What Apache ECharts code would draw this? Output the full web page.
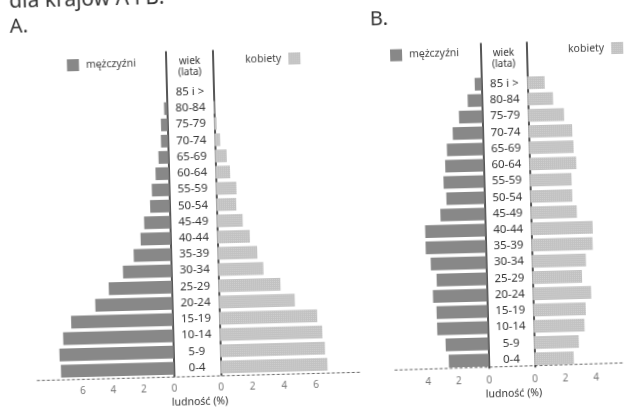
<!DOCTYPE html>
<html><head><meta charset="utf-8">
<script src="https://cdn.jsdelivr.net/npm/echarts@6/dist/echarts.min.js"></script>
<style>
html,body{margin:0;padding:0;width:624px;height:409px;overflow:hidden;background:#fff}
#c{position:absolute;left:-40px;top:-40px;width:704px;height:489px;transform:rotate(-1.5deg);transform-origin:50% 50%;}
</style></head><body><div id="c"></div>
<script>
// age groups, bottom to top
const ageGroups = ['0-4','5-9','10-14','15-19','20-24','25-29','30-34','35-39','40-44','45-49','50-54','55-59','60-64','65-69','70-74','75-79','80-84','85 i >'];
// Kraj A (% ludności)
const maleA   = [7.40,7.47,7.20,6.65,5.04,4.13,3.17,2.44,1.96,1.70,1.28,1.14,0.87,0.65,0.46,0.43,0.20,0];
const femaleA = [6.76,6.63,6.49,6.19,4.80,3.92,2.87,2.51,2.07,1.64,1.26,1.30,0.93,0.74,0.35,0.16,0.06,0];
// Kraj B (% ludności)
const maleB   = [2.62,2.80,3.33,3.34,3.55,3.28,3.64,3.95,3.95,2.92,2.50,2.66,2.52,2.38,1.97,1.53,0.93,0.44];
const femaleB = [2.57,2.93,3.33,3.44,3.82,3.25,3.53,4.00,4.03,3.02,2.75,2.73,3.07,2.92,2.86,2.35,1.66,1.14];
const tickStep = 2;
const txtTitle = 'dla krajów A i B.';
const txtMale = 'mężczyźni', txtFemale = 'kobiety';
const txtAge = 'wiek\n(lata)', txtPop = 'ludność (%)';

const OX = 40, OY = 40;
const cats = ageGroups.concat(['', '']);
const GT = 48 + OY, GH = 324.7;
const MALE = '#888888', FEMALE = '#c2c2c2', AX = '#1e1e1e';
const F = 'Noto Sans, DejaVu Sans, sans-serif';

function xAx(gi, max, inverse){
  return {type:'value', gridIndex:gi, min:0, max:max, interval:tickStep, inverse:inverse,
    axisLine:{show:false}, axisTick:{show:false}, splitLine:{show:false},
    axisLabel:{color:'#777', fontSize:10, fontFamily:F, margin:7, showMaxLabel:false,
      formatter:v => (Math.abs(v % tickStep) < 1e-9 ? String(v) : '')}};
}
function yAx(gi, pos, showLabel, margin){
  return {type:'category', gridIndex:gi, data:cats, position:pos,
    axisLine:{show:true, onZero:false, lineStyle:{color:AX, width:1.5}},
    axisTick:{show:false}, splitLine:{show:false},
    axisLabel:{show:showLabel, align:'center', margin:margin, color:'#333', fontSize:11.5, fontFamily:F}};
}
const decal = {symbol:'rect', symbolSize:1, dashArrayX:[1,1], dashArrayY:[1,1], color:'rgba(255,255,255,0.22)'};
function bar(name, xi, data, color, withDecal){
  const s = {name:name, type:'bar', xAxisIndex:xi, yAxisIndex:xi, data:data, barCategoryGap:'22%',
    itemStyle:{color:color}, silent:true, animation:false};
  if (withDecal) s.itemStyle.decal = decal;
  return s;
}
function leg(left, top, name, align){
  return {left:left, top:top, data:[name], icon:'rect', itemWidth:12, itemHeight:12, align:align,
    selectedMode:false, textStyle:{fontSize:10.5, color:'#444', fontFamily:F, padding:align==='right'?[0,2,0,0]:[0,0,0,2]}};
}
function txt(x, y, t, size, align){
  return {type:'text', x:x, y:y, style:{text:t, fontSize:size, fontFamily:F, fill:'#333',
    align:align||'left', verticalAlign:'middle', lineHeight:size+1}};
}

const option = {
  backgroundColor:'#fff',
  animation:false,
  grid:[
    {left:49.1+OX, top:GT, width:120.6, height:GH},
    {left:216.3+OX, top:GT, width:117.1, height:GH},
    {left:414.6+OX, top:GT, width:69.9, height:GH},
    {left:530.3+OX, top:GT, width:85.7, height:GH}
  ],
  xAxis:[xAx(0,7.9,true), xAx(1,7.4,false), xAx(2,4.6,true), xAx(3,5.6,false)],
  yAxis:[yAx(0,'right',true,23.3), yAx(1,'left',false,0), yAx(2,'right',true,22.9), yAx(3,'left',false,0)],
  legend:[
    leg(65.7+OX, 48+OY, txtMale, 'left'),
    leg(244+OX, 47+OY, txtFemale, 'right'),
    leg(389+OX, 46.5+OY, txtMale, 'left'),
    leg(567+OX, 45+OY, txtFemale, 'right')
  ],
  series:[
    bar(txtMale, 0, maleA, MALE, false),
    bar(txtFemale, 1, femaleA, FEMALE, true),
    bar(txtMale, 2, maleB, MALE, false),
    bar(txtFemale, 3, femaleB, FEMALE, true)
  ],
  graphic:[
    txt(14.6+OX, -5.5+OY, txtTitle, 21),
    txt(14.6+OX, 19.2+OY, 'A.', 20),
    txt(374.8+OX, 21.4+OY, 'B.', 20),
    txt(193.4+OX, 63.7+OY, txtAge, 10, 'center'),
    txt(507.4+OX, 63.3+OY, txtAge, 10, 'center'),
    txt(195+OX, 398.8+OY, txtPop, 10.5, 'center'),
    txt(509+OX, 398.6+OY, txtPop, 10.5, 'center'),
    {type:'line', shape:{x1:32.4+OX, y1:373.3+OY, x2:355.6+OX, y2:373.5+OY},
      style:{stroke:'#666', lineWidth:1, lineDash:[3,2]}},
    {type:'line', shape:{x1:390.3+OX, y1:372.2+OY, x2:660, y2:371+OY},
      style:{stroke:'#666', lineWidth:1, lineDash:[3,2]}}
  ]
};
const chart = echarts.init(document.getElementById('c'), null, {renderer:'canvas'});
chart.setOption(option);
</script></body></html>
